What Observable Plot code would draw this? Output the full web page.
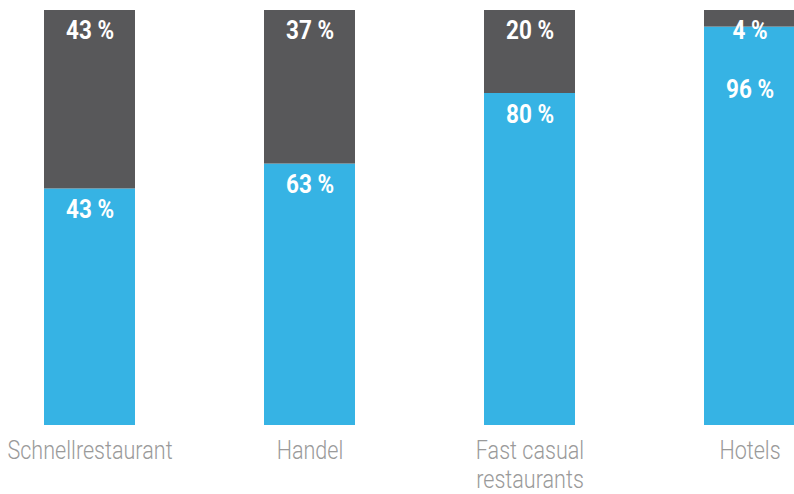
<!DOCTYPE html>
<html>
<head>
<meta charset="utf-8">
<script src="https://cdn.jsdelivr.net/npm/d3@7"></script>
<script src="https://cdn.jsdelivr.net/npm/@observablehq/plot@0.6"></script>
<style>
  html, body { margin: 0; padding: 0; background: #ffffff; }
  #chart svg { display: block; }
</style>
</head>
<body>
<div id="chart"></div>
<script>
// Categories and tick labels
const categories = ["Schnellrestaurant", "Handel", "Fast casual restaurants", "Hotels"];
const tickLabels = ["Schnellrestaurant", "Handel", "Fast casual\nrestaurants", "Hotels"];

// Series (bottom segment first), values in percent
const seriesNames = ["Anteil A", "Anteil B"];
const bottomValues = [57, 63, 80, 96];
const topValues = [43, 37, 20, 4];

// Printed value labels (as shown in the chart)
const bottomLabels = ["43 %", "63 %", "80 %", "96 %"];
const topLabels = ["43 %", "37 %", "20 %", "4 %"];

const BLUE = "#36b3e4";
const GRAY = "#58585a";
const FONT = "Roboto, 'Liberation Sans', sans-serif";

const rows = [];
categories.forEach((c, i) => {
  rows.push({cat: c, series: seriesNames[0], value: bottomValues[i]});
  rows.push({cat: c, series: seriesNames[1], value: topValues[i]});
});

// label anchors: top of each segment (bottom label kept clear of the top label)
const topText = categories.map((c, i) => ({cat: c, top: bottomValues[i] + topValues[i], label: topLabels[i]}));
const bottomText = categories.map((c, i) => ({cat: c, top: Math.min(bottomValues[i], 86), label: bottomLabels[i]}));

const tickMap = new Map(categories.map((c, i) => [c, tickLabels[i]]));

const chart = Plot.plot({
  width: 794,
  height: 494,
  marginLeft: 0,
  marginRight: 0,
  marginTop: 10,
  marginBottom: 69,
  style: {background: "#ffffff"},
  x: {domain: categories, range: [43, 796], paddingInner: 0.587, paddingOuter: 0},
  y: {domain: [0, 100], axis: null},
  color: {domain: seriesNames, range: [BLUE, GRAY]},
  marks: [
    Plot.barY(rows, {x: "cat", y: "value", fill: "series"}),
    Plot.text(topText, {
      x: "cat", y: "top", text: "label", dy: 20,
      fill: "#ffffff", fontSize: 25, fontWeight: "bold", fontFamily: FONT,
      className: "vlabel"
    }),
    Plot.text(bottomText, {
      x: "cat", y: "top", text: "label", dy: 21,
      fill: "#ffffff", fontSize: 25, fontWeight: "bold", fontFamily: FONT,
      className: "vlabel"
    }),
    Plot.axisX({
      tickSize: 0, tickPadding: 13, lineAnchor: "top", lineHeight: 1.12,
      tickFormat: d => tickMap.get(d),
      fontSize: 26, fontWeight: 300, fontFamily: FONT, fill: "#9a9a9a", label: null
    })
  ]
});

// condense the category labels horizontally (the reference uses a condensed face)
chart.querySelectorAll('g[aria-label="x-axis tick label"] text').forEach(t => {
  const tr = t.getAttribute("transform") || "";
  t.setAttribute("transform", tr + " scale(0.83,1)");
});
chart.querySelectorAll('.vlabel text').forEach(t => {
  const tr = t.getAttribute("transform") || "";
  t.setAttribute("transform", tr + " scale(0.9,1)");
});

document.getElementById("chart").appendChild(chart);
</script>
</body>
</html>
